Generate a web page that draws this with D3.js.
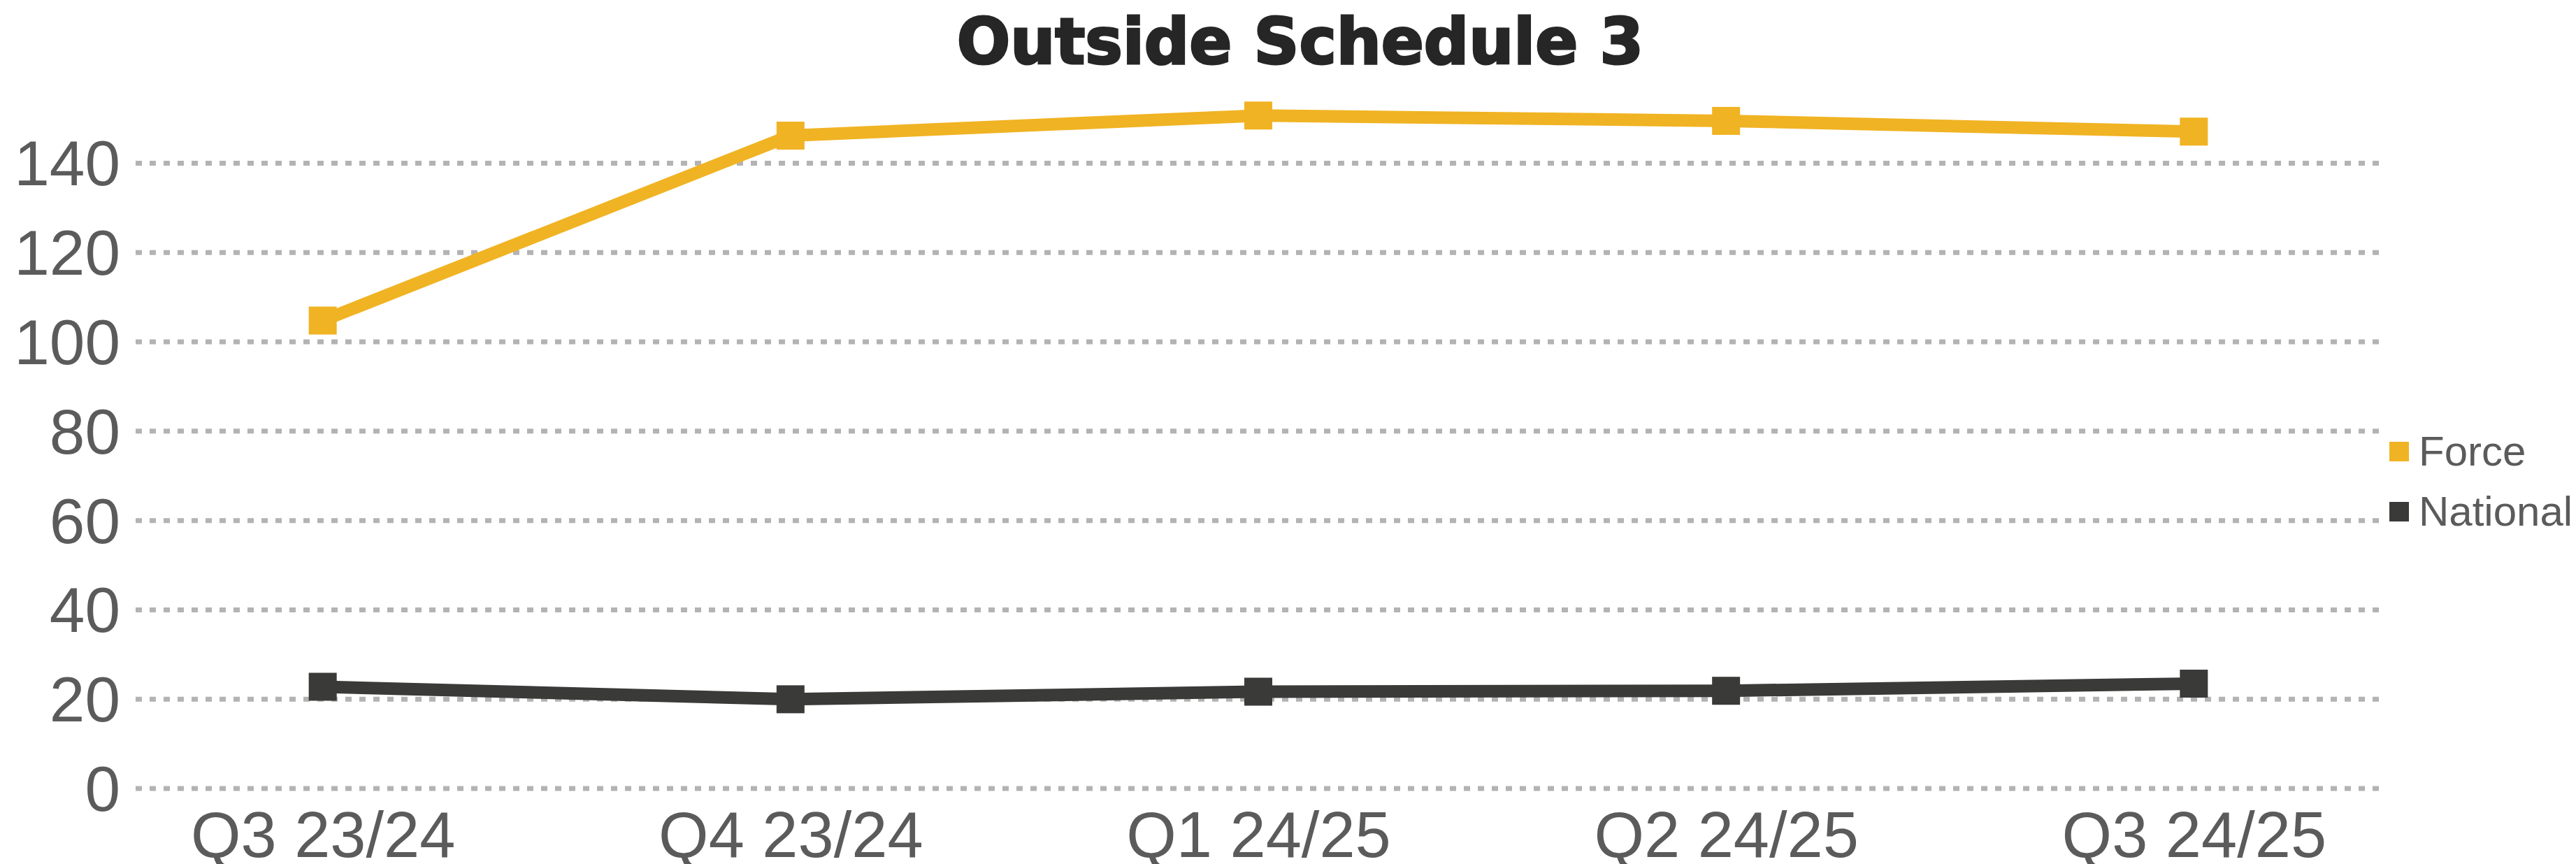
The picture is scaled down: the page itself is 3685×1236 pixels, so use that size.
<!DOCTYPE html>
<html>
<head>
<meta charset="utf-8">
<script src="https://cdn.jsdelivr.net/npm/d3@7"></script>
<style>
  body { margin: 0; background: #fff; }
  text { font-family: "Liberation Sans", Arial, sans-serif; }
</style>
</head>
<body>
<div id="chart"></div>
<script>
// chart data
var quarters = ["Q3 23/24", "Q4 23/24", "Q1 24/25", "Q2 24/25", "Q3 24/25"];
var forceValues = [104.7, 146.1, 150.6, 149.4, 147.0];
var nationalValues = [22.7, 19.9, 21.6, 21.8, 23.4];
var yTicks = [0, 20, 40, 60, 80, 100, 120, 140];
var seriesNames = ["Force", "National"];

function drawChart() {
  var svgWidth = 3685;
  var svgHeight = 1236;

  var colors = { Force: "#F0B323", National: "#3A3B38" };
  var textColor = "#5b5b5b";

  var svg = d3.select("#chart")
    .append("svg")
    .attr("width", svgWidth)
    .attr("height", svgHeight);

  // plot area edges
  var plot = { left: 194, right: 3406, top: 233, bottom: 1127.5 };

  var xScale = d3.scalePoint()
    .domain(quarters)
    .range([plot.left, plot.right])
    .padding(0.4);

  var yScale = d3.scaleLinear()
    .domain([0, 140])
    .range([plot.bottom, plot.top]);

  // gridlines + y labels
  var yAxis = svg.append("g")
    .attr("transform", `translate(${plot.left}, 0)`)
    .call(d3.axisLeft(yScale)
      .tickValues(yTicks)
      .tickSize(-(plot.right - plot.left))
      .tickPadding(22));

  yAxis.select(".domain").remove();
  yAxis.selectAll("line")
    .attr("stroke", "#b3b3b3")
    .attr("stroke-width", 7)
    .attr("stroke-dasharray", "9,11");
  yAxis.selectAll("text")
    .attr("fill", textColor)
    .attr("font-size", 91)
    .attr("dy", "0.35em");

  // x labels
  var xAxis = svg.append("g")
    .attr("transform", `translate(0, ${plot.bottom})`)
    .call(d3.axisBottom(xScale).tickSize(0).tickPadding(0));

  xAxis.select(".domain").remove();
  xAxis.selectAll("text")
    .attr("fill", textColor)
    .attr("font-size", 92)
    .attr("dy", null)
    .attr("y", 1226 - plot.bottom);

  // lines
  var series = [
    { name: "Force", values: forceValues },
    { name: "National", values: nationalValues }
  ];

  var line = d3.line()
    .x((d, i) => xScale(quarters[i]))
    .y(d => yScale(d));

  var markerSize = 40;

  series.forEach(function(s) {
    svg.append("path")
      .datum(s.values)
      .attr("d", line)
      .attr("fill", "none")
      .attr("stroke", colors[s.name])
      .attr("stroke-width", 18)
      .attr("stroke-linejoin", "round");

    svg.selectAll(null)
      .data(s.values)
      .enter()
      .append("rect")
      .attr("x", (d, i) => xScale(quarters[i]) - markerSize / 2)
      .attr("y", d => yScale(d) - markerSize / 2)
      .attr("width", markerSize)
      .attr("height", markerSize)
      .attr("fill", colors[s.name]);
  });

  // title (style() so the css rule above doesn't win)
  svg.append("text")
    .attr("x", 1860)
    .attr("y", 91)
    .attr("text-anchor", "middle")
    .style("font-family", "'DejaVu Sans', sans-serif")
    .style("font-weight", "bold")
    .attr("font-size", 90)
    .attr("fill", "#262626")
    .attr("stroke", "#262626")
    .attr("stroke-width", 3)
    .text("Outside Schedule 3");

  // legend
  var legend = svg.append("g")
    .attr("transform", "translate(3418, 646)");

  var legendItems = legend.selectAll("g")
    .data(seriesNames)
    .enter()
    .append("g")
    .attr("transform", (d, i) => `translate(0, ${i * 86})`);

  legendItems.append("rect")
    .attr("x", 0)
    .attr("y", -14)
    .attr("width", 28)
    .attr("height", 28)
    .attr("fill", d => colors[d]);

  legendItems.append("text")
    .attr("x", 42)
    .attr("y", 20)
    .attr("font-size", 60)
    .attr("fill", textColor)
    .text(d => d);
}

drawChart();
</script>
</body>
</html>
